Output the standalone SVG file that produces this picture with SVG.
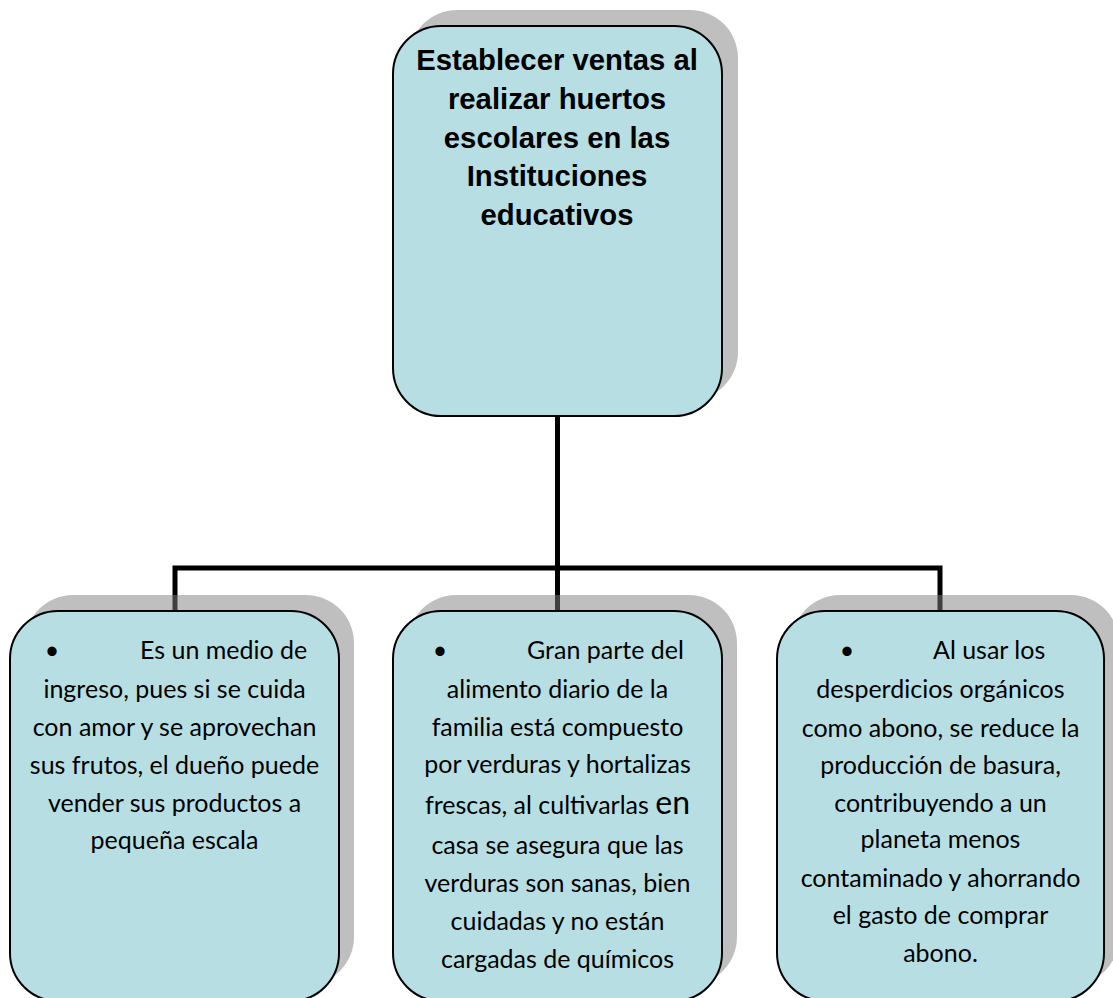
<svg xmlns="http://www.w3.org/2000/svg" width="1113" height="998" viewBox="0 0 1113 998">
<style>
.shadow{fill:#808080;fill-opacity:0.5}
.box{fill:#b7dfe3;stroke:#000;stroke-width:2}
.title{font-family:"Liberation Sans",Arial,sans-serif;font-weight:bold;font-size:29.3px;fill:#000;text-anchor:middle}
.body{font-family:Lato,"Open Sans",sans-serif;font-size:25px;fill:#000;text-anchor:middle}
.bul{font-family:Lato,"Open Sans",sans-serif;font-size:25px;fill:#000;text-anchor:middle}
.first{text-anchor:start}
.conn{fill:none;stroke:#000;stroke-width:5;stroke-linejoin:miter}
</style>
<rect width="1113" height="998" fill="#fff"/>
<g id="connectors">
<path class="conn" d="M557.5 416 V611"/>
<path class="conn" d="M175 611 V568 H940 V611"/>
</g>
<g id="node-main">
<rect class="shadow" x="409" y="10" width="329" height="390" rx="48" ry="48"/>
<rect class="box" x="393" y="26" width="329" height="390" rx="48" ry="48"/>
<text class="title" x="557" y="70">Establecer ventas al</text>
<text class="title" x="557" y="108.5">realizar huertos</text>
<text class="title" x="557" y="147.5">escolares en las</text>
<text class="title" x="557" y="186">Instituciones</text>
<text class="title" x="557" y="225">educativos</text>
</g>
<g id="node-ingreso">
<rect class="shadow" x="25" y="595" width="329" height="390" rx="48" ry="48"/>
<rect class="box" x="10" y="611" width="329" height="390" rx="48" ry="48"/>
<text class="bul" x="52" y="659">•</text>
<text class="body first" x="140" y="659">Es un medio de</text>
<text class="body" x="174.5" y="698">ingreso, pues si se cuida</text>
<text class="body" x="174.5" y="736">con amor y se aprovechan</text>
<text class="body" x="174.5" y="774">sus frutos, el dueño puede</text>
<text class="body" x="174.5" y="812">vender sus productos a</text>
<text class="body" x="174.5" y="849">pequeña escala</text>
</g>
<g id="node-alimento">
<rect class="shadow" x="408" y="595" width="329" height="390" rx="48" ry="48"/>
<rect class="box" x="393" y="611" width="329" height="390" rx="48" ry="48"/>
<text class="bul" x="440" y="659">•</text>
<text class="body first" x="527" y="659">Gran parte del</text>
<text class="body" x="557.5" y="698">alimento diario de la</text>
<text class="body" x="557.5" y="736">familia está compuesto</text>
<text class="body" x="557.5" y="773">por verduras y hortalizas</text>
<text class="body" x="557.5" y="814">frescas, al cultivarlas <tspan style="font-size:32px">en</tspan></text>
<text class="body" x="557.5" y="854">casa se asegura que las</text>
<text class="body" x="557.5" y="892">verduras son sanas, bien</text>
<text class="body" x="557.5" y="930">cuidadas y no están</text>
<text class="body" x="557.5" y="968">cargadas de químicos</text>
</g>
<g id="node-abono">
<rect class="shadow" x="792" y="595" width="327" height="390" rx="48" ry="48"/>
<rect class="box" x="777" y="611" width="327" height="390" rx="48" ry="48"/>
<text class="bul" x="847" y="659">•</text>
<text class="body first" x="933" y="659">Al usar los</text>
<text class="body" x="940.5" y="698">desperdicios orgánicos</text>
<text class="body" x="940.5" y="737">como abono, se reduce la</text>
<text class="body" x="940.5" y="774">producción de basura,</text>
<text class="body" x="940.5" y="812">contribuyendo a un</text>
<text class="body" x="940.5" y="848">planeta menos</text>
<text class="body" x="940.5" y="887">contaminado y ahorrando</text>
<text class="body" x="940.5" y="924">el gasto de comprar</text>
<text class="body" x="940.5" y="962">abono.</text>
</g>
</svg>
